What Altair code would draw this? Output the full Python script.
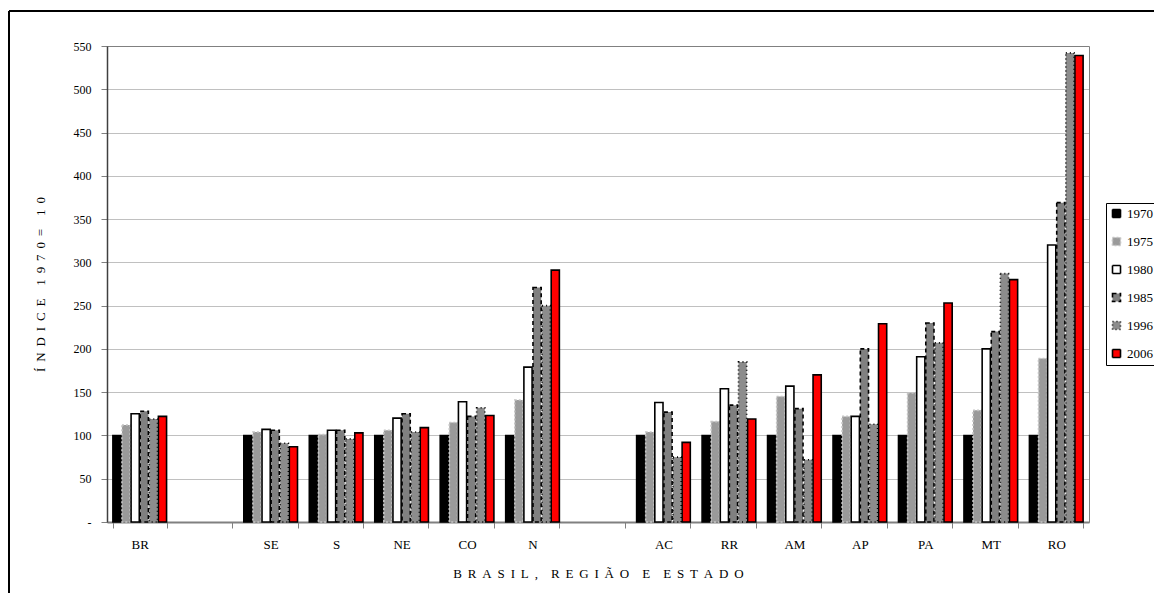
import altair as alt
import pandas as pd

# Category order on the axis ("_a" and "_b" are empty gap slots)
axis_order = ["BR", "_a", "SE", "S", "NE", "CO", "N", "_b",
              "AC", "RR", "AM", "AP", "PA", "MT", "RO"]
categories = ["BR", "SE", "S", "NE", "CO", "N",
              "AC", "RR", "AM", "AP", "PA", "MT", "RO"]
years = ["1970", "1975", "1980", "1985", "1996", "2006"]

v1970 = [100, 100, 100, 100, 100, 100, 100, 100, 100, 100, 100, 100, 100]
v1975 = [112, 104, 101, 106, 115, 141, 104, 116, 145, 122, 149, 129, 189]
v1980 = [125, 107, 106, 120, 139, 179, 138, 154, 157, 122, 191, 200, 320]
v1985 = [128, 106, 106, 125, 122, 271, 127, 135, 131, 200, 230, 220, 369]
v1996 = [119, 91, 96, 104, 132, 250, 75, 185, 72, 113, 207, 287, 542]
v2006 = [122, 87, 103, 109, 123, 291, 92, 119, 170, 229, 253, 280, 539]

series = dict(zip(years, [v1970, v1975, v1980, v1985, v1996, v2006]))
rows = []
for y, vals in series.items():
    for c, v in zip(categories, vals):
        rows.append({"cat": c, "ano": y, "valor": v})
df = pd.DataFrame(rows)

fills = ["#000000", "#9a9a9a", "#ffffff", "#808080", "#8c8c8c", "#ff0000"]
strokes = ["#000000", "#c4c4c4", "#000000", "#000000", "#000000", "#000000"]
dashes = [[1, 0], [2, 2], [1, 0], [4, 3], [1, 3], [1, 0]]

FONT = "Liberation Serif"
SP = "\u00a0\u2009"        # letter gap
WG = "\u00a0\u00a0\u00a0\u00a0"  # word gap


def spaced(words):
    return WG.join(SP.join(list(w)) for w in words)


x_title = spaced(["BRASIL,", "REGIÃO", "E", "ESTADO"])
y_title = spaced(["ÍNDICE", "1970=", "10"])

bars = alt.Chart().mark_bar(strokeWidth=1.6).encode(
    x=alt.X("cat:N", sort=axis_order,
            scale=alt.Scale(domain=axis_order, paddingInner=0.18, paddingOuter=0.09),
            axis=alt.Axis(
                title=x_title,
                labelExpr="indexof(datum.label, '_') == 0 ? '' : datum.label",
                labelAngle=0, tickBand="extent", grid=False,
                domainColor="#808080", domainWidth=2,
                tickColor="#808080", tickSize=6, tickWidth=1,
                labelFont=FONT, labelFontSize=13, labelColor="#000000",
                labelPadding=10,
                titleFont=FONT, titleFontSize=13, titleFontWeight="normal",
                titleColor="#000000",
                titleX=491, titleY=51, titleBaseline="middle", titleAlign="center")),
    xOffset=alt.XOffset("ano:N", sort=years, scale=alt.Scale(paddingInner=0.1)),
    y=alt.Y("valor:Q",
            scale=alt.Scale(domain=[0, 550], nice=False),
            axis=alt.Axis(
                title=y_title,
                values=list(range(0, 551, 50)),
                labelExpr="datum.value == 0 ? '-' : datum.label",
                grid=True, gridColor="#808080", gridDash=[1, 1], gridWidth=1,
                domainColor="#404040", domainWidth=1.5,
                tickColor="#808080", tickSize=6,
                labelFont=FONT, labelFontSize=12, labelColor="#000000",
                labelPadding=10,
                titleFont=FONT, titleFontSize=13, titleFontWeight="normal",
                titleColor="#000000", titleAngle=270,
                titleX=-67, titleY=238, titleBaseline="middle", titleAlign="center")),
    fill=alt.Fill("ano:N", sort=years,
                  scale=alt.Scale(domain=years, range=fills), title=None),
    stroke=alt.Stroke("ano:N", sort=years,
                      scale=alt.Scale(domain=years, range=strokes), title=None),
    strokeDash=alt.StrokeDash("ano:N", sort=years,
                              scale=alt.Scale(domain=years, range=dashes), title=None),
)

frame = alt.Chart().mark_rect(fill=None, stroke="#000000", strokeWidth=1,
                              fillOpacity=0).encode(
    x=alt.value(-98), x2=alt.value(1200), y=alt.value(-35), y2=alt.value(700))

chart = alt.layer(frame, bars, data=df).properties(
    width=982, height=476,
    background="white",
    autosize=alt.AutoSizeParams(type="none"),
    padding={"left": 99, "top": 38, "right": 65, "bottom": 71},
).configure_view(
    stroke="#808080", strokeWidth=1
).configure_legend(
    orient="none", legendX=999, legendY=157,
    strokeColor="#000000", padding=4,
    symbolType="square", symbolSize=64, symbolStrokeWidth=1.6,
    labelFont=FONT, labelFontSize=13, labelColor="#000000",
    rowPadding=13, labelOffset=4, labelLimit=40,
)

chart.save("out.html", embed_options={"renderer": "svg", "actions": False})
